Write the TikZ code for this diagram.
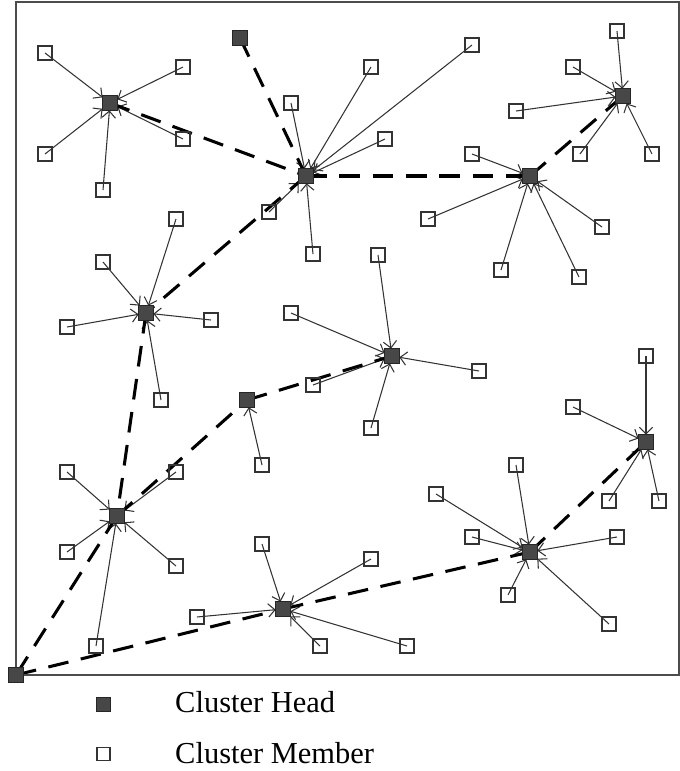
\documentclass[tikz,border=0pt]{standalone}
\usepackage{fontspec}
\setmainfont{Liberation Serif}
\usetikzlibrary{arrows.meta,backgrounds}
\begin{document}
\begin{tikzpicture}[x=0.03cm,y=-0.03cm,
  mem/.style={draw=black!80,line width=1.4pt,fill=none,minimum size=0.42cm,inner sep=0pt,outer sep=0pt},
  ch/.style={draw=black!85,line width=1pt,fill=black!72,minimum size=0.44cm,inner sep=0pt,outer sep=0pt},
  link/.style={draw=black!80,line width=0.9pt,-{Straight Barb[length=0.2cm,width=0.4cm,line width=0.9pt]}},
  hop/.style={draw=black,line width=2.6pt,dash pattern=on 0.62cm off 0.38cm},
  frame/.style={draw=black!70,line width=1.4pt},
  leg/.style={font=\fontsize{26}{30}\selectfont,anchor=base west,inner sep=0pt}]
\useasboundingbox (0,0) rectangle (680,771);
\draw[frame] (16,675) -- (16,2) -- (679,2) -- (679,675) -- cycle;
% cluster heads
\node[ch] (h1) at (110,103) {};
\node[ch] (h2) at (240,38) {};
\node[ch] (h3) at (306,176) {};
\node[ch] (h4) at (530,176) {};
\node[ch] (h5) at (623,96) {};
\node[ch] (h6) at (146,313) {};
\node[ch] (h7) at (392,356) {};
\node[ch] (h8) at (247,400) {};
\node[ch] (h9) at (117,516) {};
\node[ch] (h10) at (646,442) {};
\node[ch] (h11) at (530,552) {};
\node[ch] (h12) at (283,609) {};
\node[ch] (sink) at (16,675) {};
% members cluster 1
\node[mem] (m1a) at (45,53) {};
\node[mem] (m1b) at (183,67) {};
\node[mem] (m1c) at (45,154) {};
\node[mem] (m1d) at (183,139) {};
\node[mem] (m1e) at (103,190) {};
% cluster 3
\node[mem] (m3a) at (291,103) {};
\node[mem] (m3b) at (371,67) {};
\node[mem] (m3c) at (472,45) {};
\node[mem] (m3d) at (385,139) {};
\node[mem] (m3e) at (269,212) {};
\node[mem] (m3f) at (313,254) {};
% cluster 4
\node[mem] (m4a) at (472,154) {};
\node[mem] (m4b) at (428,219) {};
\node[mem] (m4c) at (602,227) {};
\node[mem] (m4d) at (501,270) {};
\node[mem] (m4e) at (579,277) {};
% cluster 5
\node[mem] (m5a) at (617,31) {};
\node[mem] (m5b) at (573,67) {};
\node[mem] (m5c) at (516,111) {};
\node[mem] (m5d) at (580,154) {};
\node[mem] (m5e) at (652,154) {};
% cluster 6
\node[mem] (m6a) at (176,219) {};
\node[mem] (m6b) at (103,262) {};
\node[mem] (m6c) at (67,327) {};
\node[mem] (m6d) at (211,320) {};
\node[mem] (m6e) at (161,400) {};
% cluster 7
\node[mem] (m7a) at (378,255) {};
\node[mem] (m7b) at (291,313) {};
\node[mem] (m7c) at (313,385) {};
\node[mem] (m7d) at (479,371) {};
\node[mem] (m7e) at (371,428) {};
% cluster 8
\node[mem] (m8a) at (262,465) {};
% cluster 9
\node[mem] (m9a) at (67,472) {};
\node[mem] (m9b) at (176,472) {};
\node[mem] (m9c) at (67,552) {};
\node[mem] (m9d) at (176,566) {};
\node[mem] (m9e) at (96,646) {};
% cluster 10
\node[mem] (m10a) at (646,356) {};
\node[mem] (m10b) at (573,407) {};
\node[mem] (m10c) at (609,501) {};
\node[mem] (m10d) at (659,501) {};
% cluster 11
\node[mem] (m11a) at (516,465) {};
\node[mem] (m11b) at (436,494) {};
\node[mem] (m11c) at (472,537) {};
\node[mem] (m11d) at (617,537) {};
\node[mem] (m11e) at (508,595) {};
\node[mem] (m11f) at (609,624) {};
% cluster 12
\node[mem] (m12a) at (262,544) {};
\node[mem] (m12b) at (197,617) {};
\node[mem] (m12c) at (320,646) {};
\node[mem] (m12d) at (371,559) {};
\node[mem] (m12e) at (407,646) {};
\begin{pgfonlayer}{background}
% member links
\foreach \m in {a,b,c,d,e} \draw[link] (m1\m.center) -- (h1);
\foreach \m in {a,b,c,d,e,f} \draw[link] (m3\m.center) -- (h3);
\foreach \m in {a,b,c,d,e} \draw[link] (m4\m.center) -- (h4);
\foreach \m in {a,b,c,d,e} \draw[link] (m5\m.center) -- (h5);
\foreach \m in {a,b,c,d,e} \draw[link] (m6\m.center) -- (h6);
\foreach \m in {a,b,c,d,e} \draw[link] (m7\m.center) -- (h7);
\draw[link] (m8a.center) -- (h8);
\foreach \m in {a,b,c,d,e} \draw[link] (m9\m.center) -- (h9);
\foreach \m in {a,b,c,d} \draw[link] (m10\m.center) -- (h10);
\foreach \m in {a,b,c,d,e,f} \draw[link] (m11\m.center) -- (h11);
\foreach \m in {a,b,c,d,e} \draw[link] (m12\m.center) -- (h12);
% head-to-head hops
\draw[hop] (h2.center) -- (h3.center);
\draw[hop] (h1.center) -- (h3.center);
\draw[hop] (h3.center) -- (h4.center);
\draw[hop] (h4.center) -- (h5.center);
\draw[hop] (h3.center) -- (h6.center);
\draw[hop] (h6.center) -- (h9.center);
\draw[hop] (h9.center) -- (sink.center);
\draw[hop] (h9.center) -- (h8.center);
\draw[hop] (h8.center) -- (h7.center);
\draw[hop] (sink.center) -- (h12.center);
\draw[hop] (h12.center) -- (h11.center);
\draw[hop] (h11.center) -- (h10.center);
\end{pgfonlayer}
% legend
\node[ch,minimum size=0.44cm] (lgh) at (103.5,704.5) {};
\node[mem,minimum size=0.4cm] (lgm) at (103.5,754) {};
\node[leg] (lth) at (175,712) {Cluster Head};
\node[leg] (ltm) at (175,763) {Cluster Member};
\end{tikzpicture}
\end{document}
